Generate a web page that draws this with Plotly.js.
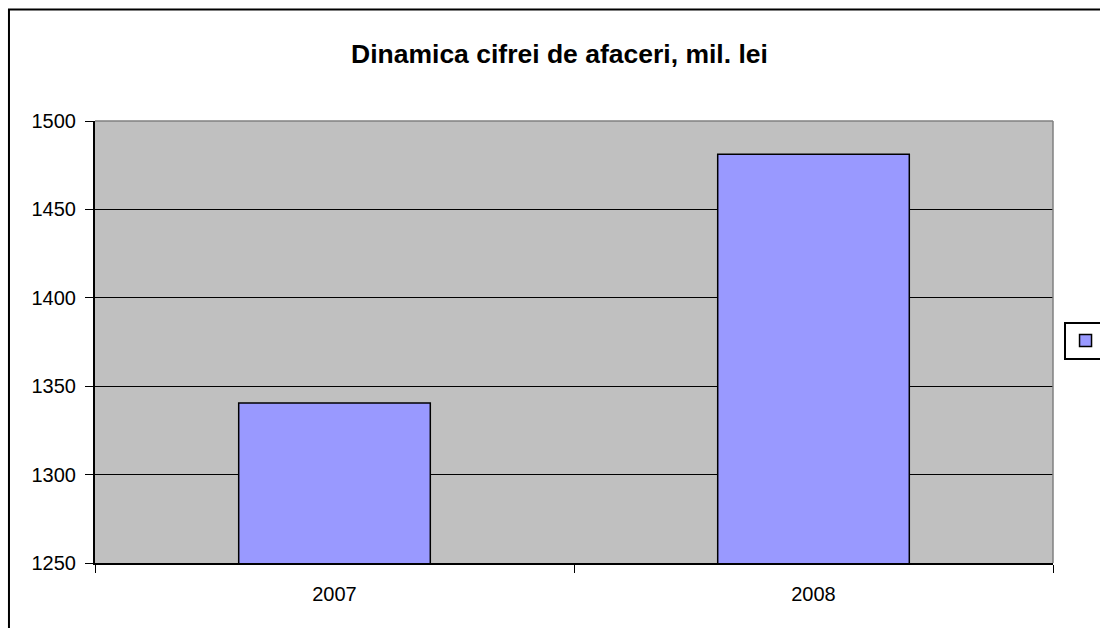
<!DOCTYPE html>
<html>
<head>
<meta charset="utf-8">
<script src="https://cdn.plot.ly/plotly-3.0.1.min.js"></script>
<style>html,body{margin:0;padding:0;background:#fff}#chart{width:1100px;height:628px}</style>
</head>
<body>
<div id="chart"></div>
<script>
const years = ["2007", "2008"];
const turnover = [1340.5, 1481.2];
const yTicks = [1250, 1300, 1350, 1400, 1450, 1500];

const trace = {
  type: "bar",
  x: years,
  y: turnover,
  name: " ",
  width: 0.4,
  marker: {color: "#9999FF", line: {color: "#000000", width: 1.5}},
  showlegend: true,
  hoverinfo: "x+y"
};

const layout = {
  width: 1100, height: 628,
  margin: {l: 95, r: 47, t: 121, b: 65, pad: 0, autoexpand: false},
  paper_bgcolor: "#ffffff",
  plot_bgcolor: "#C0C0C0",
  font: {family: "Liberation Sans, Arial, sans-serif", size: 20, color: "#000"},
  title: {text: "<b>Dinamica cifrei de afaceri, mil. lei</b>", font: {size: 26.5, family: "Liberation Sans, Arial, sans-serif"}, x: 0.5086, xanchor: "center", xref: "container", y: 0.915, yanchor: "middle"},
  xaxis: {
    type: "category",
    tickson: "boundaries",
    ticks: "outside", ticklen: 8, tickcolor: "#000", tickwidth: 1,
    ticklabelstandoff: 12,
    showline: true, linecolor: "#000", linewidth: 2,
    showgrid: false, zeroline: false,
    tickfont: {size: 20}
  },
  yaxis: {
    range: [1250, 1500],
    tickvals: yTicks,
    ticks: "outside", ticklen: 8, tickcolor: "#000", tickwidth: 1,
    ticklabelstandoff: 5,
    showline: true, linecolor: "#000", linewidth: 2,
    showgrid: true, gridcolor: "#000", gridwidth: 1,
    zeroline: false,
    tickfont: {size: 20}
  },
  showlegend: true,
  legend: {
    x: 1.011, y: 0.503, xanchor: "left", yanchor: "middle",
    bordercolor: "#000", borderwidth: 2, bgcolor: "#fff",
    itemwidth: 30, font: {size: 16}
  },
  shapes: [
    {type: "line", xref: "paper", yref: "paper", x0: 0, x1: 1, y0: 1, y1: 1, line: {color: "#808080", width: 1.5}},
    {type: "line", xref: "paper", yref: "paper", x0: 1, x1: 1, y0: 0, y1: 1, line: {color: "#808080", width: 1.5}},
    {type: "rect", xref: "paper", yref: "paper", x0: -0.0898, x1: 1.2, y0: -0.3, y1: 1.2523, line: {color: "#000", width: 2}, layer: "below"}
  ]
};

Plotly.newPlot("chart", [trace], layout, {displayModeBar: false, staticPlot: true});
</script>
</body>
</html>
